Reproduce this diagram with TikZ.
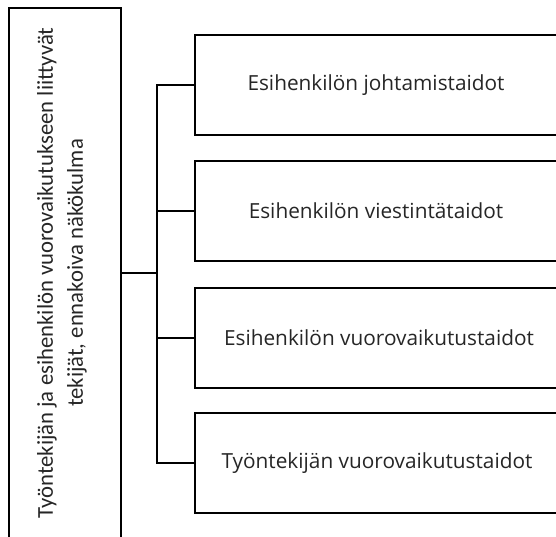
\documentclass[tikz,border=0pt]{standalone}
\usepackage{fontspec}
\setmainfont{Carlito}
\newfontfamily\boxfont{Open Sans}
\begin{document}
\begin{tikzpicture}[x=1pt,y=-1pt,
  line width=1.6pt,
  skill/.style={draw=black,minimum width=366pt,minimum height=100pt,anchor=north west,inner sep=0pt},
  lbl/.style={font=\boxfont\fontsize{20.8}{24}\selectfont,text=black!85},
  wire/.style={draw=black,line width=1.6pt}]
\useasboundingbox (0,0) rectangle (556,536);
\clip (0,0) rectangle (556,536);
% left box with the rotated title
\node[draw=black,minimum width=112pt,minimum height=534pt,anchor=north west,inner sep=0pt] (main) at (8,7) {};
\node[rotate=90,align=center,text=black!85,font=\fontsize{22.7}{30}\selectfont] (title) at (62,273)
  {Työntekijän ja esihenkilön vuorovaikutukseen liittyvät\\tekijät, ennakoiva näkökulma};
% the four skill boxes
\node[skill] (b1) at (194,34) {};
\node[skill] (b2) at (194,160) {};
\node[skill] (b3) at (194,287) {};
\node[skill] (b4) at (194,412) {};
\node[lbl] (t1) at (376,85) {Esihenkilön johtamistaidot};
\node[lbl] (t2) at (376,211) {Esihenkilön viestintätaidot};
\node[lbl] (t3) at (379,338) {Esihenkilön vuorovaikutustaidot};
\node[lbl] (t4) at (377,463) {Työntekijän vuorovaikutustaidot};
% bracket connectors
\coordinate (trunk) at (157,273);
\draw[wire] (main.east |- trunk) -- (trunk);
\draw[wire] (b1.west) -| (trunk) |- (b4.west);
\draw[wire] (trunk |- b2.west) -- (b2.west);
\draw[wire] (trunk |- b3.west) -- (b3.west);
\end{tikzpicture}
\end{document}
